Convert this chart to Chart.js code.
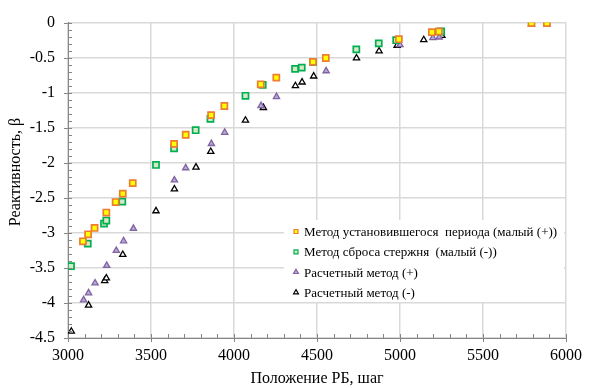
<!DOCTYPE html>
<html>
<head>
<meta charset="utf-8">
<script src="https://cdn.jsdelivr.net/npm/chart.js@4/dist/chart.umd.min.js"></script>
<style>
  html, body { margin: 0; padding: 0; background: #fff; }
  #wrap { width: 590px; height: 388px; position: relative; }
</style>
</head>
<body>
<div id="wrap"><canvas id="chart"></canvas></div>
<script>
// Метод установившегося периода (малый (+))
const xPeriod = [3090, 3121, 3160, 3231, 3287, 3330, 3390, 3639, 3709, 3862, 3942, 4161, 4255, 4476, 4553, 4993, 5192, 5234, 5792, 5885];
const yPeriod = [-3.12, -3.02, -2.93, -2.71, -2.56, -2.44, -2.29, -1.73, -1.60, -1.32, -1.19, -0.88, -0.785, -0.56, -0.505, -0.237, -0.137, -0.127, -0.006, -0.006];

// Метод сброса стержня (малый (-))
const xDrop = [3018, 3119, 3217, 3231, 3327, 3530, 3639, 3769, 3858, 4069, 4173, 4368, 4408, 4477, 4737, 4872, 4977, 5248];
const yDrop = [-3.476, -3.154, -2.867, -2.824, -2.555, -2.031, -1.795, -1.535, -1.374, -1.044, -0.888, -0.661, -0.643, -0.564, -0.382, -0.297, -0.251, -0.127];

// Расчетный метод (+)
const xCalcPlus = [3094, 3124, 3163, 3233, 3291, 3335, 3394, 3641, 3709, 3864, 3944, 4163, 4256, 4555, 5000, 5198, 5236, 5792, 5885];
const yCalcPlus = [-3.958, -3.858, -3.717, -3.466, -3.254, -3.116, -2.938, -2.248, -2.074, -1.728, -1.568, -1.186, -1.058, -0.69, -0.317, -0.218, -0.208, -0.024, -0.024];

// Расчетный метод (-)
const xCalcMinus = [3020, 3124, 3221, 3231, 3330, 3530, 3641, 3771, 3860, 4069, 4177, 4370, 4410, 4480, 4738, 4874, 4983, 5143, 5252];
const yCalcMinus = [-4.405, -4.033, -3.683, -3.646, -3.31, -2.687, -2.375, -2.064, -1.841, -1.394, -1.214, -0.902, -0.85, -0.765, -0.506, -0.407, -0.326, -0.246, -0.184];

const seriesNames = ['Метод установившегося  периода (малый (+))', 'Метод сброса стержня  (малый (-))', 'Расчетный метод (+)', 'Расчетный метод (-)'];
const xTicks = [3000, 3500, 4000, 4500, 5000, 5500, 6000];
const yTicks = [0, -0.5, -1, -1.5, -2, -2.5, -3, -3.5, -4, -4.5];
const yTitle = 'Реактивность, β';

const FONT = "'Liberation Serif', 'Times New Roman', serif";

function pts(xs, ys) {
    return xs.map((x, i) => ({ x: x, y: ys[i] }));
}

// малые и большие засечки на осях, как в Excel
const tickMarks = {
    id: 'tickMarks',
    afterDraw(chart) {
        const ctx = chart.ctx, xs = chart.scales.x, ys = chart.scales.y;
        const a = chart.chartArea;
        ctx.save();
        ctx.strokeStyle = '#868686';
        ctx.lineWidth = 1;
        ctx.beginPath();
        for (let v = 3000; v <= 6000; v += 100) {
            const px = Math.round(xs.getPixelForValue(v)) + 0.5;
            const major = v % 500 === 0;
            ctx.moveTo(px, a.bottom - 4);
            ctx.lineTo(px, a.bottom + (major ? 4 : 0));
        }
        for (let i = 0; i <= 45; i++) {
            const v = -i / 10;
            const py = Math.round(ys.getPixelForValue(v)) + 0.5;
            const major = i % 5 === 0;
            ctx.moveTo(a.left + 4, py);
            ctx.lineTo(a.left - (major ? 4 : 0), py);
        }
        ctx.stroke();

        // подпись оси Y (в оригинале чуть выше центра области)
        ctx.translate(16, 172);
        ctx.rotate(-Math.PI / 2);
        ctx.font = '16px ' + FONT;
        ctx.fillStyle = '#000';
        ctx.textAlign = 'center';
        ctx.textBaseline = 'middle';
        ctx.fillText(yTitle, 0, 0);
        ctx.restore();
    }
};

// легенда внутри области построения
const innerLegend = {
    id: 'innerLegend',
    afterDraw(chart) {
        const ctx = chart.ctx;
        const bx = 284, by = 220, bw = 280, bh = 82;
        ctx.save();
        ctx.fillStyle = '#fff';
        ctx.fillRect(bx, by, bw, bh);
        ctx.font = '13px ' + FONT;
        ctx.textBaseline = 'middle';
        chart.data.datasets.forEach((ds, i) => {
            const y = by + 11.5 + i * 20.3;
            ctx.fillStyle = ds.backgroundColor;
            ctx.strokeStyle = ds.borderColor;
            ctx.lineWidth = 1.2;
            Chart.helpers.drawPoint(ctx, { pointStyle: ds.pointStyle, radius: 2.8, rotation: 0, borderWidth: 1.2 }, 296, y);
            ctx.fillStyle = '#000';
            ctx.fillText(ds.label, 304, y + 1);
        });
        ctx.restore();
    }
};

new Chart(document.getElementById('chart'), {
    type: 'scatter',
    data: {
        datasets: [
            { label: seriesNames[0], data: pts(xPeriod, yPeriod), pointStyle: 'rect', pointRadius: 4.3, borderWidth: 1.7,
              borderColor: '#ED7D31', backgroundColor: '#FFFF00' },
            { label: seriesNames[1], data: pts(xDrop, yDrop), pointStyle: 'rect', pointRadius: 4.3, borderWidth: 1.7,
              borderColor: '#00B050', backgroundColor: '#D6E8C8' },
            { label: seriesNames[2], data: pts(xCalcPlus, yCalcPlus), pointStyle: 'triangle', pointRadius: 3.6, borderWidth: 1.3,
              borderColor: '#8064A2', backgroundColor: '#B9A8D4' },
            { label: seriesNames[3], data: pts(xCalcMinus, yCalcMinus), pointStyle: 'triangle', pointRadius: 3.6, borderWidth: 1.3,
              borderColor: '#000000', backgroundColor: '#FFFFFF' }
        ]
    },
    options: {
        responsive: true,
        maintainAspectRatio: false,
        animation: false,
        layout: { padding: { top: 20, right: 19, left: 0, bottom: 0 } },
        plugins: {
            legend: { display: false },
            tooltip: { enabled: false }
        },
        scales: {
            x: {
                type: 'linear',
                min: 3000, max: 6000,
                afterBuildTicks: s => { s.ticks = xTicks.map(v => ({ value: v })); },
                afterFit: s => { s.height = 50; },
                grid: { color: '#d9d9d9', lineWidth: 1.5, drawTicks: false },
                border: { color: '#868686', width: 1 },
                ticks: {
                    padding: 8, color: '#000', maxRotation: 0,
                    font: { family: FONT, size: 16 },
                    callback: v => String(v)
                },
                title: {
                    display: true, text: 'Положение РБ, шаг', color: '#000',
                    font: { family: FONT, size: 16 }, padding: { top: 3, bottom: 0 }
                }
            },
            y: {
                type: 'linear',
                min: -4.5, max: 0,
                afterBuildTicks: s => { s.ticks = yTicks.map(v => ({ value: v })); },
                afterFit: s => { s.width = 68; },
                grid: { color: '#d9d9d9', lineWidth: 1.5, drawTicks: false },
                border: { color: '#868686', width: 1 },
                ticks: {
                    padding: 13, color: '#000',
                    font: { family: FONT, size: 16 },
                    callback: v => String(v)
                }
            }
        }
    },
    plugins: [tickMarks, innerLegend]
});
</script>
</body>
</html>
